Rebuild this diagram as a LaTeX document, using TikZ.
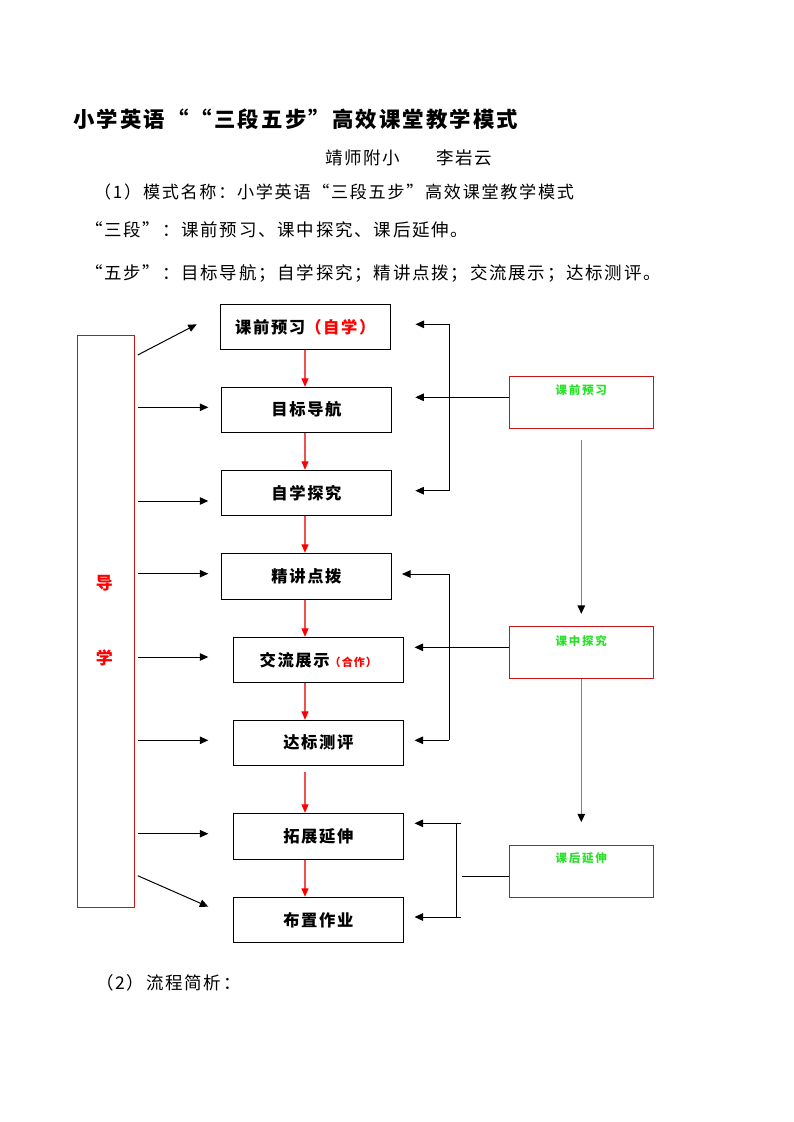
\documentclass[tikz,border=0pt]{standalone}
\usepackage{fontspec}
\usepackage{xcolor}
\usepackage{tikz}
\usetikzlibrary{arrows.meta,positioning}

\newfontfamily\bodyfont[LetterSpace=10]{Noto Sans CJK SC}
\newfontfamily\tagfont[LetterSpace=15]{Noto Sans CJK SC}
\definecolor{frame red}{RGB}{200,20,20}
\definecolor{tag green}{RGB}{40,225,40}
\definecolor{flow red}{RGB}{240,80,80}

\begin{document}
\begin{tikzpicture}[x=1pt,y=-1pt,
    para/.style={inner sep=0pt, anchor=west, font=\bodyfont\fontsize{17.5}{20}\selectfont},
    headline/.style={inner sep=0pt, anchor=west, font=\bodyfont\bfseries\fontsize{21.4}{24}\selectfont},
    stage/.style={draw, line width=1pt, minimum width=170pt, minimum height=45pt, inner sep=0pt,
      font=\bodyfont\bfseries\fontsize{16.3}{18}\selectfont},
    guide/.style={draw=frame red, line width=0.9pt, minimum width=57.4pt, minimum height=572pt},
    guidetext/.style={text=red, inner sep=0pt, font=\bodyfont\bfseries\fontsize{17}{20}\selectfont},
    phase/.style={draw=frame red, line width=0.9pt, minimum width=144pt, minimum height=52pt},
    tag/.style={text=tag green, inner sep=0pt, font=\tagfont\bfseries\fontsize{11.5}{13}\selectfont},
    wire/.style={line width=1pt},
    arr/.style={line width=1pt, -{Triangle[length=8.5pt,width=7.5pt]}},
    flow/.style={draw=flow red, line width=1.2pt, -{Triangle[length=8.5pt,width=7pt,color=red]}},
    greyarr/.style={draw=gray, line width=1.5pt, -{Triangle[length=8.5pt,width=7.5pt,color=black]}}]
  \useasboundingbox (0,0) rectangle (793,1122);

  % text above and below the chart
  \node[headline] (title) at (73,119) {小学英语““三段五步”高效课堂教学模式};
  \node[para] (author) at (325,158.3) {靖师附小\hspace{36pt}李岩云};
  \node[para, font=\bodyfont\fontsize{17.1}{20}\selectfont] (name) at (94,191.7) {（1）模式名称：小学英语“三段五步”高效课堂教学模式};
  \node[para] (three) at (85,230) {“三段”：课前预习、课中探究、课后延伸。};
  \node[para] (five) at (85,273.3) {“五步”：目标导航；自学探究；精讲点拨；交流展示；达标测评。};
  \node[para] (steps) at (96,983) {（2）流程简析：};

  % guide column
  \node[guide] (guide) at (106,621.3) {};
  \node[guidetext] (dao) at (104.3,583) {导};
  \node[guidetext] (xue) at (104.3,658) {学};

  % the eight steps
  \node[stage] (pre) at (305.3,326.8) {课前预习\textcolor{red}{（自学）}};
  \node[stage] (goal) at (306.5,409.8) {目标导航};
  \node[stage] (self) at (306.5,492.8) {自学探究};
  \node[stage, minimum height=46pt] (talk) at (306.5,576.3) {精讲点拨};
  \node[stage] (show) at (318.3,659.8) {交流展示{\fontsize{11}{13}\selectfont\textcolor{red}{（合作）}}};
  \node[stage] (test) at (318.3,742.8) {达标测评};
  \node[stage, minimum height=46pt] (ext) at (318.3,836.3) {拓展延伸};
  \node[stage] (hw) at (318.3,919.8) {布置作业};

  % the three phases
  \node[phase] (before) at (581.3,402.3) {};
  \node[phase] (during) at (581.3,652.3) {};
  \node[phase] (after) at (581.3,871.3) {};
  \node[tag, below=9pt of before.north] (beforetag) {课前预习};
  \node[tag, below=9pt of during.north] (duringtag) {课中探究};
  \node[tag, below=8pt of after.north] (aftertag) {课后延伸};

  % red flow down the steps
  \coordinate (col) at (305,0);
  \draw[flow] (pre.south -| col) -- (goal.north -| col);
  \draw[flow] (goal.south -| col) -- (self.north -| col);
  \draw[flow] (self.south -| col) -- (talk.north -| col);
  \draw[flow] (talk.south -| col) -- (show.north -| col);
  \draw[flow] (show.south -| col) -- (test.north -| col);
  \draw[flow, shorten <=6pt] (test.south -| col) -- (ext.north -| col);
  \draw[flow] (ext.south -| col) -- (hw.north -| col);

  % phase to phase
  \draw[greyarr, shorten <=11pt, shorten >=12pt] (before) -- (during);
  \draw[greyarr, shorten >=22.6pt] (during) -- (after);

  % guide arrows
  \coordinate (in1) at (196.7,324.3);
  \coordinate (in2) at (208.3,407.3);
  \coordinate (in3) at (208.3,501);
  \coordinate (in4) at (208.3,573.7);
  \coordinate (in5) at (208.3,657);
  \coordinate (in6) at (208.3,740.3);
  \coordinate (in7) at (208.3,833.7);
  \coordinate (in8) at (208.3,906.7);
  \draw[arr] (guide.east) ++(2.6,-266.3) -- (in1);
  \draw[arr, shorten <=2.6pt] (guide.east |- in2) -- (in2);
  \draw[arr, shorten <=2.6pt] (guide.east |- in3) -- (in3);
  \draw[arr, shorten <=2.6pt] (guide.east |- in4) -- (in4);
  \draw[arr, shorten <=2.6pt] (guide.east |- in5) -- (in5);
  \draw[arr, shorten <=2.6pt] (guide.east |- in6) -- (in6);
  \draw[arr, shorten <=2.6pt] (guide.east |- in7) -- (in7);
  \draw[arr] (guide.east) ++(2.6,254.4) -- (in8);

  % bracket before class
  \coordinate (k1t) at (449.3,324.3);
  \coordinate (k1m) at (449.3,397.3);
  \coordinate (k1b) at (449.3,490.7);
  \draw[wire] (k1t) -- (k1b);
  \draw[arr, shorten >=24.7pt] (k1t) -- (k1t -| pre.east);
  \draw[arr, shorten >=23.3pt] (before.west |- k1m) -- (k1m -| goal.east);
  \draw[arr, shorten >=23.3pt] (k1b) -- (k1b -| self.east);

  % bracket in class
  \coordinate (k2t) at (449.3,574);
  \coordinate (k2m) at (449.3,647.3);
  \coordinate (k2b) at (449.3,740.3);
  \draw[wire] (k2t) -- (k2b);
  \draw[arr, shorten >=10pt] (k2t) -- (k2t -| talk.east);
  \draw[arr, shorten >=10.7pt] (during.west |- k2m) -- (k2m -| show.east);
  \draw[arr, shorten >=10.7pt] (k2b) -- (k2b -| test.east);

  % bracket after class
  \coordinate (k3t) at (456.7,823.3);
  \coordinate (k3m) at (462.3,876);
  \coordinate (k3b) at (456.7,917);
  \draw[wire] (k3t) -- (k3b);
  \draw[arr, shorten >=10.7pt] ([xshift=4.3pt]k3t) -- (k3t -| ext.east);
  \draw[arr, shorten >=10.7pt] ([xshift=4.3pt]k3b) -- (k3b -| hw.east);
  \draw[wire] (after.west |- k3m) -- (k3m);
\end{tikzpicture}
\end{document}
